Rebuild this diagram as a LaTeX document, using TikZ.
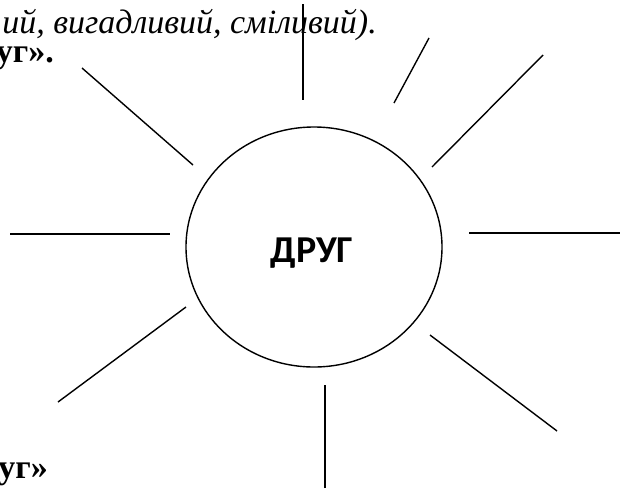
\documentclass[tikz,border=0pt]{standalone}
\usepackage{fontspec}
\setmainfont{Liberation Serif}
\newfontfamily\carlito{Carlito}
\usetikzlibrary{shapes.geometric}
\tikzset{
  ray/.style={line width=1.4pt, line cap=butt},
  sun/.style={draw, ellipse, line width=1.4pt, minimum width=256pt, minimum height=240pt, inner sep=0pt},
  serif/.style={inner sep=0pt, font=\fontsize{34}{37}\selectfont}
}
\begin{document}
\begin{tikzpicture}[x=1pt,y=-1pt]
\useasboundingbox (0,0) rectangle (620,488);
% texts
\node[serif, anchor=base east] (t1) at (377,33) {\itshape ий, вигадливий, сміливий).};
\node[serif, anchor=base east] (t2) at (54,62) {\bfseries уг».};
\node[serif, anchor=base east] (t3) at (48,478) {\bfseries уг»};
% sun
\node[sun] (c) at (314,247) {};
\node[inner sep=0pt, font=\carlito\bfseries\fontsize{38}{40}\selectfont] (w) at (312,253) {ДРУГ};
% ray coordinates
\coordinate (a1) at (303,4);   \coordinate (b1) at (303,100);
\coordinate (a2) at (429,38);  \coordinate (b2) at (394,103);
\coordinate (a3) at (543,55);  \coordinate (b3) at (432,167);
\coordinate (a4) at (620,233); \coordinate (b4) at (469,233);
\coordinate (a5) at (557,431); \coordinate (b5) at (430,335);
\coordinate (a6) at (325,488); \coordinate (b6) at (325,385);
\coordinate (a7) at (58,402);  \coordinate (b7) at (186,307);
\coordinate (a8) at (10,234);  \coordinate (b8) at (170,234);
\coordinate (a9) at (82,68);   \coordinate (b9) at (193,165);
\foreach \i in {1,...,9} \draw[ray] (a\i) -- (b\i);
\end{tikzpicture}
\end{document}
